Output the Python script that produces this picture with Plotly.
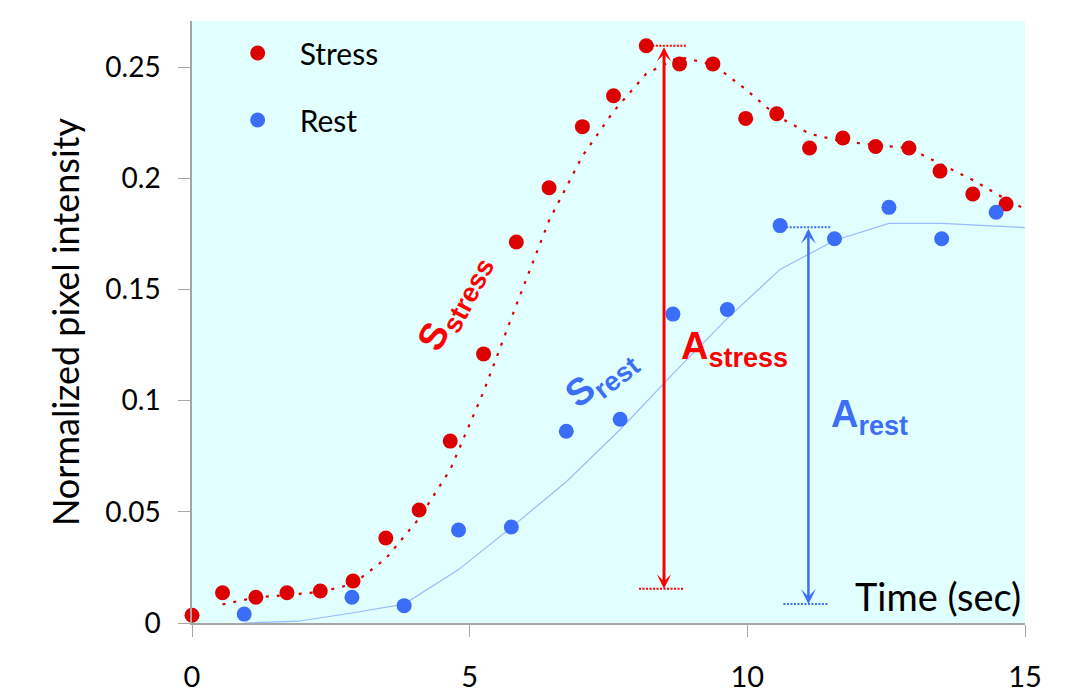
import plotly.graph_objects as go

# ---------------- data ----------------
stress_t = [0, 0.55, 1.15, 1.71, 2.31, 2.90, 3.49, 4.09, 4.65, 5.25, 5.84, 6.43, 7.03,
            7.59, 8.18, 8.78, 9.38, 9.97, 10.53, 11.12, 11.72, 12.31, 12.91, 13.47, 14.06, 14.66]
stress_y = [0.0035, 0.0136, 0.0116, 0.0136, 0.0144, 0.0189, 0.0382, 0.0508, 0.0818, 0.121,
            0.1713, 0.1957, 0.2232, 0.2371, 0.2596, 0.2514, 0.2514, 0.2269, 0.229, 0.2136,
            0.2181, 0.2143, 0.2136, 0.2032, 0.1929, 0.1884]

rest_t = [0.94, 2.88, 3.82, 4.80, 5.75, 6.74, 7.71, 8.66, 9.64, 10.59, 11.57, 12.55, 13.50, 14.48]
rest_y = [0.004, 0.0116, 0.0078, 0.0418, 0.0432, 0.0862, 0.0916, 0.1389, 0.141, 0.1787,
          0.1728, 0.1869, 0.1728, 0.1847]

stress_fit_t = [0.55, 1.15, 1.71, 2.31, 2.90, 3.49, 4.09, 4.65, 5.25, 5.84, 6.43, 7.03, 7.59,
                8.18, 8.78, 9.38, 9.97, 10.53, 11.12, 11.72, 12.31, 12.91, 13.47, 14.06, 14.66, 15.25]
stress_fit_y = [0.0084, 0.0115, 0.0126, 0.0140, 0.0175, 0.0290, 0.0470, 0.0690, 0.1040, 0.1430,
                0.1810, 0.2100, 0.2300, 0.2470, 0.2545, 0.2512, 0.2400, 0.2280, 0.2200, 0.2165,
                0.2150, 0.2135, 0.2065, 0.1992, 0.1905, 0.1830]

rest_fit_t = [0.94, 1.91, 2.88, 3.82, 4.80, 5.75, 6.74, 7.71, 8.66, 9.64, 10.59, 11.57, 12.55,
              13.50, 14.48, 15.45]
rest_fit_y = [0.0, 0.0008, 0.0045, 0.0085, 0.024, 0.043, 0.0635, 0.087, 0.112, 0.137, 0.159,
              0.172, 0.1797, 0.1797, 0.1785, 0.1772]

# amplitude markers (time, [baseline, peak])
a_stress_time = 8.5
a_stress_levels = [0.0154, 0.2596]
a_rest_time = 11.1
a_rest_levels = [0.0085, 0.178]

x_ticks = [0, 5, 10, 15]
y_ticks = [0, 0.05, 0.1, 0.15, 0.2, 0.25]
y_ticktext = ["0", "0.05", "0.1", "0.15", "0.2", "0.25"]

# ---------------- styles ----------------
RED_PT = "#DD0000"
RED = "#FF0000"
BLUE_PT = "#3A6EF8"
BLUE = "#3D6FF5"
BLUE_FIT = "#99BBFF"
AXIS = "#A6A6A6"
TXT_FONT = "Lato, Calibri, sans-serif"
ANN_FONT = "Liberation Sans, Arial, sans-serif"
HALF = 0.4


def sub_label(main, sub, sub_px):
    return f"<b>{main}<sub><span style='font-size:{sub_px}px'>{sub}</span></sub></b>"


fig = go.Figure()

fig.add_trace(go.Scatter(x=stress_fit_t, y=stress_fit_y, mode="lines", showlegend=False,
                         line=dict(color=RED_PT, width=2.2, dash="3px,8px"), hoverinfo="skip"))
fig.add_trace(go.Scatter(x=rest_fit_t, y=rest_fit_y, mode="lines", showlegend=False,
                         line=dict(color=BLUE_FIT, width=1.2), hoverinfo="skip"))

# reference dotted lines at amplitude levels
for lvl, off in zip(a_stress_levels, [-0.05, 0.0]):
    fig.add_trace(go.Scatter(x=[a_stress_time - HALF + off, a_stress_time + HALF + off], y=[lvl, lvl],
                             mode="lines", showlegend=False,
                             line=dict(color=RED, width=2, dash="2px,1.5px")))
for lvl, off in zip(a_rest_levels, [-0.05, 0.0]):
    fig.add_trace(go.Scatter(x=[a_rest_time - HALF + off, a_rest_time + HALF + off], y=[lvl, lvl],
                             mode="lines", showlegend=False,
                             line=dict(color=BLUE, width=2, dash="2px,1.5px")))

fig.add_trace(go.Scatter(x=stress_t, y=stress_y, mode="markers", name="Stress",
                         legendgroup="s", cliponaxis=False,
                         marker=dict(color=RED_PT, size=15)))
fig.add_trace(go.Scatter(x=rest_t, y=rest_y, mode="markers", name="Rest",
                         legendgroup="r", cliponaxis=False,
                         marker=dict(color=BLUE_PT, size=15)))

annotations = [
    # amplitude arrows
    dict(x=a_stress_time, y=a_stress_levels[0], ax=a_stress_time, ay=a_stress_levels[1],
         xref="x", yref="y", axref="x", ayref="y", text="", showarrow=True,
         arrowhead=3, startarrowhead=3, arrowside="end+start", arrowsize=0.8,
         arrowwidth=3, arrowcolor=RED),
    dict(x=a_rest_time, y=a_rest_levels[0], ax=a_rest_time, ay=a_rest_levels[1],
         xref="x", yref="y", axref="x", ayref="y", text="", showarrow=True,
         arrowhead=3, startarrowhead=3, arrowside="end+start", arrowsize=1.0,
         arrowwidth=2.5, arrowcolor=BLUE),
    # labels
    dict(x=4.72, y=0.144, xref="x", yref="y", showarrow=False, textangle=-62,
         text=sub_label("S", "stress", 27), font=dict(family=ANN_FONT, size=38, color=RED)),
    dict(x=7.38, y=0.110, xref="x", yref="y", showarrow=False, textangle=-38,
         text=sub_label("S", "rest", 27), font=dict(family=ANN_FONT, size=38, color=BLUE)),
    dict(x=9.76, y=0.123, xref="x", yref="y", showarrow=False,
         text=sub_label("A", "stress", 27), font=dict(family=ANN_FONT, size=38, color=RED)),
    dict(x=12.2, y=0.0926, xref="x", yref="y", showarrow=False,
         text=sub_label("A", "rest", 27), font=dict(family=ANN_FONT, size=38, color=BLUE)),
    dict(x=14.97, y=0.0121, xref="x", yref="y", showarrow=False, xanchor="right",
         text="Time (sec)", font=dict(family=TXT_FONT, size=38, color="black")),
]

# page body has an 8px margin, so the figure is offset by (8, 8) in the window
fig.update_layout(
    width=1067, height=684,
    margin=dict(l=184, r=50, t=13, b=69, autoexpand=False),
    paper_bgcolor="white",
    plot_bgcolor="#E1FFFF",
    font=dict(family=TXT_FONT, color="black"),
    showlegend=True,
    legend=dict(x=0.0284, y=0.99, xanchor="left", yanchor="top",
                bgcolor="rgba(0,0,0,0)", borderwidth=0,
                font=dict(family=TXT_FONT, size=30, color="black"),
                itemwidth=74, tracegroupgap=25),
    annotations=annotations,
    xaxis=dict(range=[0, 15], tickvals=x_ticks, showgrid=False, zeroline=False,
               automargin=False,
               showline=True, linecolor=AXIS, linewidth=1.5,
               ticks="outside", ticklen=12, tickcolor=AXIS, tickwidth=1.2,
               tickfont=dict(family=TXT_FONT, size=29, color="black"),
               ticklabelstandoff=15),
    yaxis=dict(range=[0, 0.2707], tickvals=y_ticks, ticktext=y_ticktext,
               showgrid=False, zeroline=False, automargin=False,
               showline=True, linecolor=AXIS, linewidth=1.5,
               ticks="outside", ticklen=12, tickcolor=AXIS, tickwidth=1.2,
               tickfont=dict(family=TXT_FONT, size=28, color="black"),
               ticklabelstandoff=12,
               title=dict(text="Normalized pixel intensity", standoff=15,
                          font=dict(family=TXT_FONT, size=36, color="black"))),
)

fig.write_html("out.html")
